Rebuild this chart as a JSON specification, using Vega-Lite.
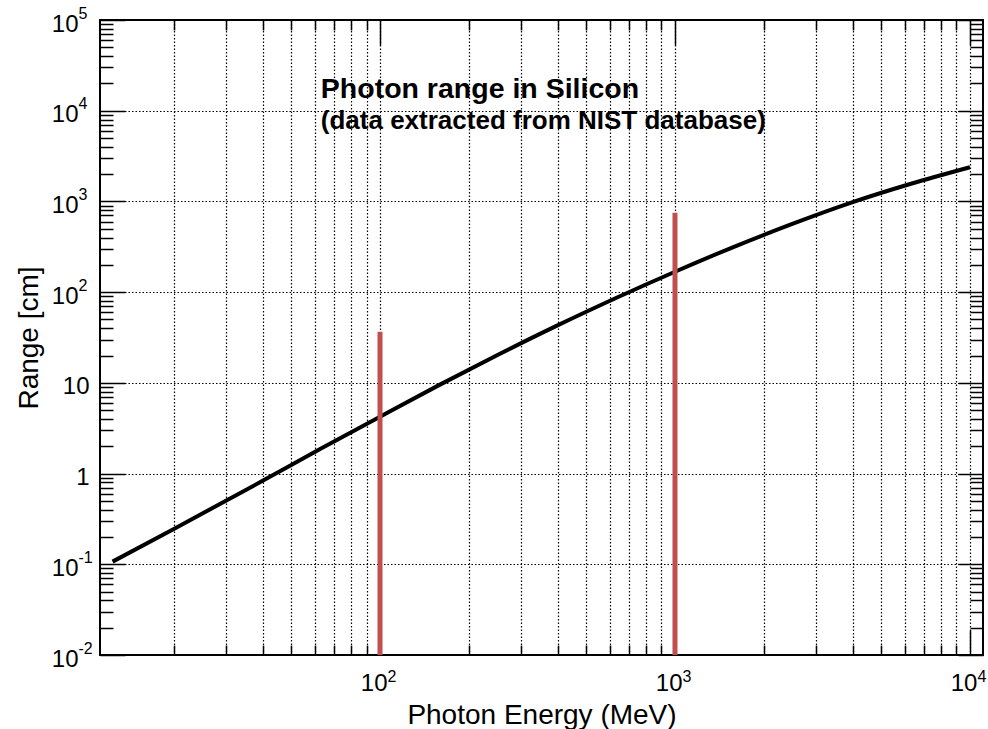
{
  "$schema": "https://vega.github.io/schema/vega-lite/v6.json",
  "autosize": {"type": "none"},
  "padding": {"left": 100, "top": 20, "right": 5, "bottom": 74},
  "width": 883,
  "height": 635,
  "background": "white",
  "datasets": {
    "curve": [
      {"E": 12.4, "R": 0.107},
      {"E": 20, "R": 0.245},
      {"E": 40, "R": 0.832},
      {"E": 63.1, "R": 1.884},
      {"E": 100, "R": 4.24},
      {"E": 158.5, "R": 9.44},
      {"E": 251.2, "R": 20.4},
      {"E": 398.1, "R": 42.7},
      {"E": 631, "R": 86.1},
      {"E": 1000, "R": 167.9},
      {"E": 1585, "R": 316},
      {"E": 2512, "R": 569},
      {"E": 3981, "R": 977},
      {"E": 6310, "R": 1567},
      {"E": 10000, "R": 2383}
    ],
    "rules": [
      {"E": 100, "R": 0.01, "R2": 36.7},
      {"E": 1000, "R": 0.01, "R2": 752}
    ],
    "title1": [{"E": 63, "R": 13930, "label": "Photon range in Silicon"}],
    "title2": [{"E": 63, "R": 6250, "label": "(data extracted from NIST database)"}]
  },
  "resolve": {"axis": {"x": "independent", "y": "independent"}},
  "layer": [
    {
      "data": {"name": "curve"},
      "mark": {"type": "line", "color": "black", "strokeWidth": 4, "interpolate": "monotone"},
      "encoding": {
        "x": {
          "field": "E", "type": "quantitative",
          "scale": {"type": "log", "domain": [11.24, 11070], "nice": false},
          "axis": {
            "orient": "bottom", "values": [100, 1000, 10000], "tickSize": -25, "tickWidth": 1.5,
            "labelPadding": 60, "labelBaseline": "alphabetic", "labelAlign": "right", "labelOffset": 7,
            "labelFontSize": 24, "labelOverlap": false,
            "labelExpr": "'10'",
            "grid": true, "title": "Photon Energy (MeV)", "titleFontSize": 28,
            "titleY": 68, "titleBaseline": "alphabetic"
          }
        },
        "y": {
          "field": "R", "type": "quantitative",
          "scale": {"type": "log", "domain": [0.01, 100000], "nice": false},
          "axis": {
            "orient": "left", "values": [0.01, 0.1, 1, 10, 100, 1000, 10000, 100000],
            "tickSize": -25, "tickWidth": 1.5, "labelPadding": 36, "labelFontSize": 24,
            "labelAlign": "right", "labelBaseline": "middle", "labelOffset": 4, "labelOverlap": false,
            "labelExpr": "datum.value > 0.5 && datum.value < 5 ? '1' : datum.value > 5 && datum.value < 50 ? '10' : ''",
            "grid": true, "title": "Range [cm]", "titleFontSize": 28,
            "titleX": -63, "titleBaseline": "alphabetic"
          }
        }
      }
    },
    {
      "data": {"name": "rules"},
      "mark": {"type": "rule", "color": "#c0504d", "strokeWidth": 5},
      "encoding": {
        "x": {
          "field": "E", "type": "quantitative",
          "scale": {"type": "log", "domain": [11.24, 11070], "nice": false},
          "axis": {"orient": "top", "values": [20, 30, 40, 50, 60, 70, 80, 90, 100, 200, 300, 400, 500, 600, 700, 800, 900, 1000, 2000, 3000, 4000, 5000, 6000, 7000, 8000, 9000, 10000],
            "tickSize": {"condition": {"test": "datum.value == 100 || datum.value == 1000 || datum.value == 10000", "value": -25}, "value": -10},
            "tickWidth": 1.5, "labels": false, "grid": false, "title": null}
        },
        "y": {
          "field": "R", "type": "quantitative",
          "scale": {"type": "log", "domain": [0.01, 100000], "nice": false},
          "axis": {"orient": "right", "values": [0.01, 0.02, 0.03, 0.04, 0.05, 0.06, 0.07, 0.08, 0.09, 0.1, 0.2, 0.3, 0.4, 0.5, 0.6, 0.7, 0.8, 0.9, 1, 2, 3, 4, 5, 6, 7, 8, 9, 10, 20, 30, 40, 50, 60, 70, 80, 90, 100, 200, 300, 400, 500, 600, 700, 800, 900, 1000, 2000, 3000, 4000, 5000, 6000, 7000, 8000, 9000, 10000, 20000, 30000, 40000, 50000, 60000, 70000, 80000, 90000, 100000],
            "tickSize": {"condition": {"test": "abs(log(datum.value)/LN10 - round(log(datum.value)/LN10)) < 0.001", "value": -25}, "value": -13},
            "tickWidth": 1.5, "labels": false, "grid": false, "title": null}
        },
        "y2": {"field": "R2"}
      }
    },
    {
      "data": {"name": "title1"},
      "mark": {"type": "text", "align": "left", "baseline": "alphabetic", "font": "Liberation Sans", "fontWeight": "bold", "fontSize": 28.5, "color": "black"},
      "encoding": {
        "x": {
          "field": "E", "type": "quantitative",
          "scale": {"type": "log", "domain": [11.24, 11070], "nice": false},
          "axis": {"orient": "bottom", "values": [20, 30, 40, 50, 60, 70, 80, 90, 200, 300, 400, 500, 600, 700, 800, 900, 2000, 3000, 4000, 5000, 6000, 7000, 8000, 9000], "tickSize": -10, "tickWidth": 1.5, "labels": false, "grid": true, "title": null}
        },
        "y": {
          "field": "R", "type": "quantitative",
          "scale": {"type": "log", "domain": [0.01, 100000], "nice": false},
          "axis": {"orient": "left", "values": [0.02, 0.03, 0.04, 0.05, 0.06, 0.07, 0.08, 0.09, 0.2, 0.3, 0.4, 0.5, 0.6, 0.7, 0.8, 0.9, 2, 3, 4, 5, 6, 7, 8, 9, 20, 30, 40, 50, 60, 70, 80, 90, 200, 300, 400, 500, 600, 700, 800, 900, 2000, 3000, 4000, 5000, 6000, 7000, 8000, 9000, 20000, 30000, 40000, 50000, 60000, 70000, 80000, 90000], "tickSize": -13, "tickWidth": 1.5, "labels": false, "grid": false, "title": null}
        },
        "text": {"field": "label"}
      }
    },
    {
      "data": {"name": "title2"},
      "mark": {"type": "text", "align": "left", "baseline": "alphabetic", "font": "Liberation Sans", "fontWeight": "bold", "fontSize": 26, "color": "black"},
      "encoding": {
        "x": {
          "field": "E", "type": "quantitative",
          "scale": {"type": "log", "domain": [11.24, 11070], "nice": false},
          "axis": {"orient": "bottom", "values": [100, 1000, 10000], "ticks": false, "labelPadding": 26, "labelBaseline": "alphabetic", "labelAlign": "left", "labelOffset": 7,
            "labelFontSize": 16, "labelOverlap": false,
            "labelExpr": "datum.value < 500 ? '2' : datum.value < 5000 ? '3' : '4'",
            "grid": false, "title": null}
        },
        "y": {
          "field": "R", "type": "quantitative",
          "scale": {"type": "log", "domain": [0.01, 100000], "nice": false},
          "axis": {"orient": "left", "values": [0.01, 0.1, 100, 1000, 10000, 100000], "ticks": false, "labelPadding": 22, "labelAlign": "left", "labelBaseline": "alphabetic", "labelOffset": -2,
            "labelFontSize": 16, "labelOverlap": false,
            "labelExpr": "datum.value < 0.05 ? '-2' : datum.value < 0.5 ? '-1' : datum.value < 500 ? '2' : datum.value < 5000 ? '3' : datum.value < 50000 ? '4' : '5'",
            "grid": false, "title": null}
        },
        "text": {"field": "label"}
      }
    },
    {
      "data": {"name": "curve"},
      "mark": {"type": "line", "color": "black", "strokeWidth": 4, "opacity": 0, "interpolate": "monotone"},
      "encoding": {
        "x": {
          "field": "E", "type": "quantitative",
          "scale": {"type": "log", "domain": [11.24, 11070], "nice": false},
          "axis": null
        },
        "y": {
          "field": "R", "type": "quantitative",
          "scale": {"type": "log", "domain": [0.01, 100000], "nice": false},
          "axis": {"orient": "left", "values": [0.01, 0.1, 100, 1000, 10000, 100000], "ticks": false, "labelPadding": 22, "labelAlign": "right", "labelBaseline": "middle", "labelOffset": 4,
            "labelFontSize": 24, "labelOverlap": false,
            "labelExpr": "'10'",
            "grid": false, "title": null}
        }
      }
    }
  ],
  "config": {
    "view": {"stroke": "black", "strokeWidth": 2},
    "axis": {
      "domain": false,
      "labelFont": "Liberation Sans",
      "titleFont": "Liberation Sans",
      "titleFontWeight": "normal",
      "labelColor": "black",
      "titleColor": "black",
      "tickColor": "black",
      "gridColor": "black",
      "gridDash": [1.5, 2],
      "gridWidth": 1.2,
      "gridOpacity": 1
    }
  }
}
